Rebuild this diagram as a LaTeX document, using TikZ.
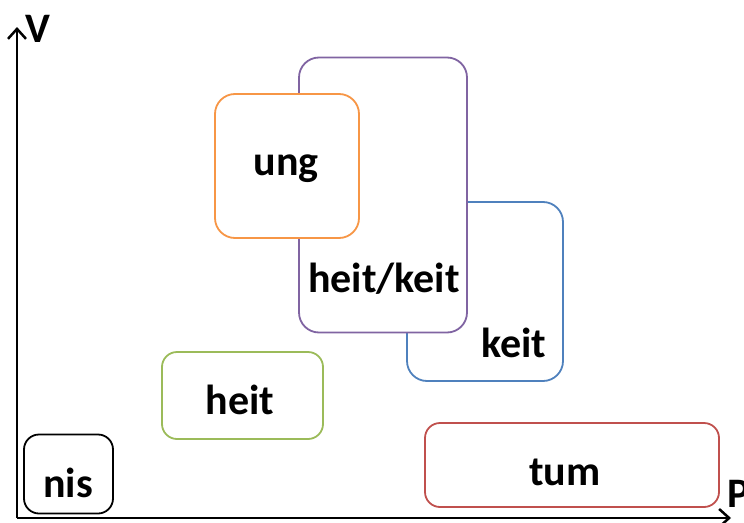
\documentclass[tikz,border=0pt]{standalone}
\usepackage{fontspec}
\usetikzlibrary{arrows.meta}
\setmainfont{Carlito}
\definecolor{ungorange}{HTML}{F79646}
\definecolor{hkpurple}{HTML}{8064A2}
\definecolor{keitblue}{HTML}{4F81BD}
\definecolor{heitgreen}{HTML}{9BBB59}
\definecolor{tumred}{HTML}{C0504D}
\tikzset{
  box/.style={draw=#1,line width=1.8pt,fill=white,rounded corners=20pt,inner sep=0pt},
  lbl/.style={anchor=base,inner sep=0pt,font=\fontsize{42}{48}\selectfont\bfseries},
  axis/.style={->,line width=2.5pt},
}
\begin{document}
\begin{tikzpicture}[>={Straight Barb[length=10pt,width=18pt]},x=1pt,y=-1pt]
	\useasboundingbox (0,0) rectangle (744,522);
	% Achsen
	\coordinate (o) at (17,518);
	\coordinate (vend) at (17,27);
	\coordinate (pend) at (731,518);
	\draw[axis] (o) -- (vend);
	\draw[axis] (o) -- (pend);
	\node[lbl] (vlab) at (38,42) {V};
	\node[lbl,anchor=base west] (plab) at (727,507) {P};
	% Kästen (hinten zuerst)
	\node[box=keitblue,minimum width=156pt,minimum height=179pt] (keit) at (485,291.5) {};
	\node[box=hkpurple,minimum width=168pt,minimum height=275pt] (heitkeit) at (383,195) {};
	\node[box=ungorange,minimum width=144pt,minimum height=144pt] (ung) at (287,166) {};
	\node[box=heitgreen,minimum width=161pt,minimum height=87pt,rounded corners=15pt] (heit) at (242.5,395.5) {};
	\node[box=black,minimum width=89pt,minimum height=79pt,rounded corners=15pt] (nis) at (68.5,474) {};
	\node[box=tumred,minimum width=294pt,minimum height=84pt,rounded corners=15pt] (tum) at (572,465) {};
	% Beschriftungen
	\node[lbl] (keit-t) at (514,357) {keit};
	\node[lbl] (heitkeit-t) at (384,292) {heit/keit};
	\node[lbl] (ung-t) at (286,175) {ung};
	\node[lbl] (heit-t) at (240,414) {heit};
	\node[lbl] (nis-t) at (68,497) {nis};
	\node[lbl] (tum-t) at (565,485) {tum};
\end{tikzpicture}
\end{document}
